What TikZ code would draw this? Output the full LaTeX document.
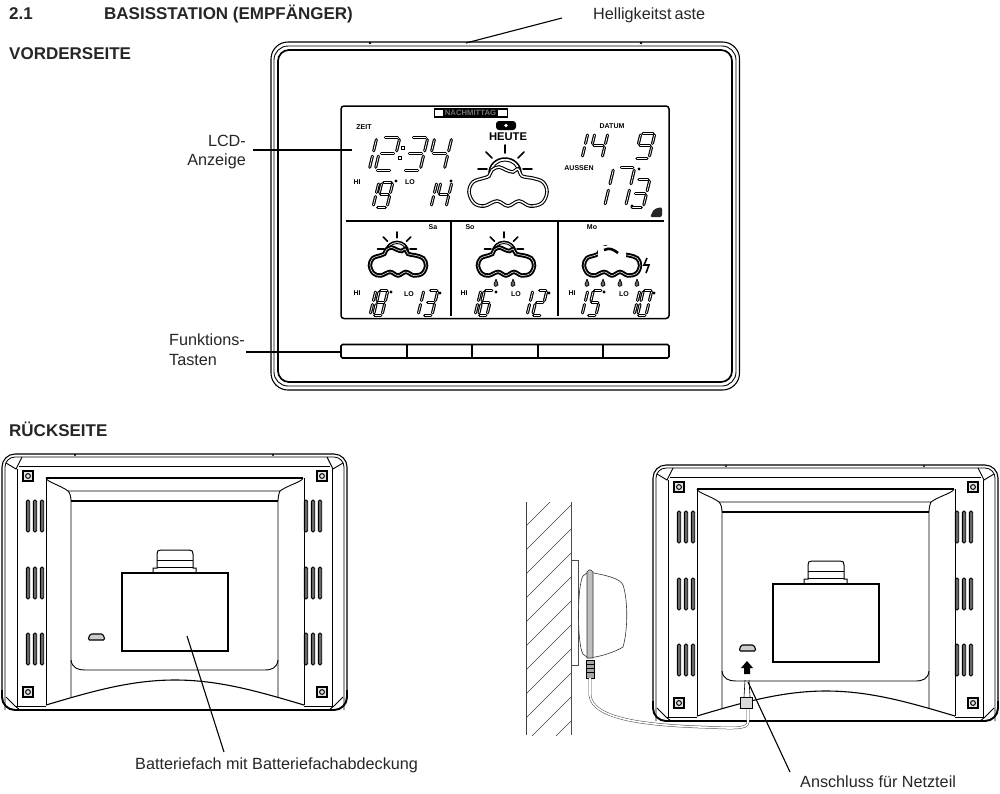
\documentclass[tikz,border=0pt]{standalone}
\usepackage{fontspec}
\setmainfont{Liberation Sans}
\tikzset{
  lbl/.style={font=\fontsize{16.2}{18.8}\selectfont,inner sep=0pt,text=black!85},
  hdg/.style={font=\bfseries\fontsize{17}{20}\selectfont,inner sep=0pt,anchor=west,text=black!85},
  tiny/.style={font=\bfseries\fontsize{7}{8}\selectfont,inner sep=0pt},
  leader/.style={line width=1.1pt,black},
  rearline/.style={line width=.9pt,black},
  vent/.style={line width=.9pt,draw=black,fill=black!60,rounded corners=1.5pt},
  hatchline/.style={line width=.45pt,black!75},
  cable/.style={line width=.5pt,black!70},
  rayline/.style={line width=1.7pt,line cap=round},
}
% seven-segment
\newcommand{\sgline}[2]{\draw[line width=3pt,black,line cap=round] (#1)--(#2);\draw[line width=.7pt,white] (#1)--(#2);}
\newcommand{\sga}{\sgline{.14,0}{.86,0}}
\newcommand{\sgb}{\sgline{1,.08}{1,.42}}
\newcommand{\sgc}{\sgline{1,.58}{1,.92}}
\newcommand{\sgd}{\sgline{.14,1}{.86,1}}
\newcommand{\sge}{\sgline{0,.58}{0,.92}}
\newcommand{\sgf}{\sgline{0,.08}{0,.42}}
\newcommand{\sgg}{\sgline{.14,.5}{.86,.5}}
\expandafter\def\csname dg0\endcsname{\sga\sgb\sgc\sgd\sge\sgf}
\expandafter\def\csname dg1\endcsname{\sgb\sgc}
\expandafter\def\csname dg2\endcsname{\sga\sgb\sgg\sge\sgd}
\expandafter\def\csname dg3\endcsname{\sga\sgb\sgg\sgc\sgd}
\expandafter\def\csname dg4\endcsname{\sgf\sgg\sgb\sgc}
\expandafter\def\csname dg5\endcsname{\sga\sgf\sgg\sgc\sgd}
\expandafter\def\csname dg6\endcsname{\sga\sgf\sgg\sgc\sgd\sge}
\expandafter\def\csname dg7\endcsname{\sga\sgb\sgc}
\expandafter\def\csname dg8\endcsname{\sga\sgb\sgc\sgd\sge\sgf\sgg}
\expandafter\def\csname dg9\endcsname{\sga\sgb\sgc\sgd\sgf\sgg}
% #1 top-right x, #2 top y, #3 width, #4 height, #5 digit
\newcommand{\dgt}[5]{\begin{scope}[shift={(#1-#3,#2)},x={(#3 pt,0pt)},y={(-.24*#4 pt,-#4 pt)}]\csname dg#5\endcsname\end{scope}}
\newcommand{\degr}[2]{\fill (#1,#2) circle (1.6pt);}
% cloud
\newcommand{\cloudpath}{plot[smooth cycle,tension=.6] coordinates {(-39,2)(-35,-8)(-24,-12)(-19,-14)(-16,-20)(-9,-23)(-2,-20)(5,-18)(10,-21)(14,-14)(24,-12)(35,-8)(39,2)(34,13)(22,16)(11,11)(0,16)(-11,11)(-24,16)(-34,13)}}
\newcommand{\sunrays}[3]{\begin{scope}[shift={(#1,#2)},scale=#3]
 \draw[rayline] (0,-17)--(0,-25);
 \draw[rayline] (18,-1)--(27,-1);\draw[rayline] (-18,-1)--(-27,-1);
 \draw[rayline] (13,-12)--(19,-18);\draw[rayline] (-13,-12)--(-19,-18);
 \draw[line width=1.5pt] (-16,3) arc[start angle=-180,end angle=0,x radius=16,y radius=15];
 \draw[line width=.9pt] (-13,3) arc[start angle=-180,end angle=0,x radius=13,y radius=12];
\end{scope}}
\newcommand{\maincloud}[3]{\begin{scope}[shift={(#1,#2)},scale=#3]
 \draw[line width=3.6pt,fill=white] \cloudpath; \draw[line width=1.4pt,white] \cloudpath;\end{scope}}
\newcommand{\fcloud}[2]{\begin{scope}[shift={(#1,#2)},scale=.72]
 \draw[line width=4.4pt,fill=white] \cloudpath; \draw[line width=.5pt,white] \cloudpath;\end{scope}}
\newcommand{\drp}[2]{\draw[fill=black!60,line width=.7pt] (#1,#2-4) .. controls (#1+.5,#2-1) and (#1+2.5,#2) .. (#1+2,#2+2) .. controls (#1+1.5,#2+4) and (#1-2.5,#2+4) .. (#1-2,#2+1) .. controls (#1-2,#2) and (#1-.5,#2-1) .. (#1,#2-4);}
% rear view
\newcommand{\rearview}[1]{\begin{scope}[shift={#1}]
 \draw[line width=1.1pt,rounded corners=13pt] (2,454) -- (347,454) -- (347,710) -- (2,710) -- cycle;
 \draw[line width=1.9pt,rounded corners=13pt] (2,690) -- (2,710) -- (347,710) -- (347,690);
 \draw[line width=.8pt,rounded corners=10pt] (5,710) -- (5,457) -- (344,457) -- (344,710);
 \fill (75,455) circle (1.2pt);\fill (273,455) circle (1.2pt);
 \draw[rearline] (22,457)--(16,469)--(6,463);
 \draw[rearline] (327,457)--(333,469)--(343,463);
 \draw[rearline] (20,710)--(15,706)--(6,697);
 \draw[rearline] (329,710)--(334,706)--(343,697);
 \draw[rearline] (19,466)--(330,466);
 \draw[rearline] (17,469)--(17,706);
 \draw[rearline] (332,469)--(332,706);
 \draw[rearline] (15,706)--(46,706);\draw[rearline] (304,706)--(334,706);
 \foreach \cx/\cy in {28/476,322/476,28/692,322/692}{
   \draw[line width=1.1pt,fill=black!10] (\cx-5,\cy-5) rectangle (\cx+5,\cy+5);
   \draw[line width=1pt] (\cx,\cy) circle (2.4pt);}
 \draw[line width=1.1pt] (46,478)--(303,478);
 \draw[rearline] (46,478) .. controls (47,482) and (60,485) .. (68,491) -- (280,491) .. controls (288,485) and (302,482) .. (303,478);
 \draw[line width=1.1pt] (71,501)--(278,501);
 \draw[rearline] (68,491) .. controls (70,493) and (71,497) .. (71,501)--(71,697);
 \draw[rearline] (280,491) .. controls (279,493) and (278,497) .. (278,501)--(278,697);
 \draw[rearline] (46,478)--(46,705);
 \draw[rearline] (304,478)--(304,705);
 \draw[rearline] (71,660) .. controls (72,668) and (78,670) .. (85,670)--(264,670) .. controls (272,670) and (277,668) .. (278,660);
 \draw[line width=1.1pt] (46,705) .. controls (90,692) and (130,680) .. (175,680) .. controls (220,680) and (260,692) .. (304,705);
 \foreach \vx in {28,35,42,306,313,320}\foreach \vy in {500,567,633}{
   \draw[vent] (\vx-1.7,\vy) rectangle (\vx+1.7,\vy+32);}
 \draw[line width=1.9pt,fill=white] (122,573) rectangle (228,651);
 \draw[line width=1pt] (153,573)--(153,568)--(157,568)--(157,554) .. controls (157,551) and (158,550) .. (161,550) -- (189,550) .. controls (192,550) and (193,551) .. (193,554)--(193,568)--(196,568)--(196,573);
 \draw[line width=.8pt] (157,560)--(193,560);\draw[line width=.8pt] (157,567)--(193,567);
 \draw[line width=1.1pt,fill=black!20,rounded corners=1.5pt] (88,640)--(90,634)--(103,634)--(105,640)--cycle;
\end{scope}}
\begin{document}
\begin{tikzpicture}[x=1pt,y=-1pt]
\fill[white] (0,0) rectangle (1000,793);
\useasboundingbox (0,0) rectangle (1000,793);
% headings
\node[hdg] (secnum) at (9,14) {2.1};
\node[hdg] (sectitle) at (104,14) {BASISSTATION (EMPFÄNGER)};
\node[hdg] (front) at (9,54) {VORDERSEITE};
\node[hdg] (back) at (9,429) {RÜCKSEITE};
% main housing
\draw[line width=1.1pt,rounded corners=17pt] (271,42) rectangle (739.5,390);
\draw[line width=.9pt,rounded corners=14pt] (274,46) rectangle (736,386);
\draw[line width=1.7pt,rounded corners=11pt] (278,50) rectangle (732,382);
\fill (370,43) circle (1.4pt);\fill (641,43) circle (1.4pt);
% LCD
\draw[line width=1.5pt,rounded corners=3pt] (341,106) rectangle (669,318.5);
\draw[line width=1.6pt] (346,221)--(664,221);
\draw[line width=1.6pt] (451,221)--(451,316);
\draw[line width=1.6pt] (558,221)--(558,316);
% buttons
\draw[line width=1.7pt,rounded corners=1.5pt] (341,344.5) rectangle (669,358);
\foreach \bx in {407,472,538,603}{\draw[line width=1.7pt] (\bx,344.5)--(\bx,358);}
% banner
\draw[line width=1.3pt] (434.5,109) rectangle (507.5,117);
\fill (443,109) rectangle (498,117);
\node[tiny,font=\bfseries\fontsize{7.7}{8}\selectfont,text=black!55] (banner) at (470.5,113) {NACHMITTAG};
% small labels
\node[tiny] (zeit) at (364,127) {ZEIT};
\node[tiny] (hi0) at (357,182) {HI};
\node[tiny] (lo0) at (410,182) {LO};
\node[tiny] (datum) at (612,126) {DATUM};
\node[tiny] (aussen) at (579,168) {AUSSEN};
\node[font=\bfseries\fontsize{11.2}{12}\selectfont,inner sep=0pt] (heute) at (508,137) {HEUTE};
\fill[rounded corners=3pt] (496,121) rectangle (516,130);
\fill[white] (506,125.5) circle (1.8pt);
% time
\dgt{377}{137}{16}{33}{1}\dgt{400}{137}{17}{33}{2}\dgt{428}{137}{17}{33}{3}\dgt{452}{137}{17}{33}{4}
\draw[line width=.8pt] (401,146) rectangle (404,149);\draw[line width=.8pt] (398,156) rectangle (401,159);
\dgt{379}{182}{11}{25}{1}\dgt{393}{182}{11}{25}{9}\degr{396}{181}
\dgt{437}{182}{11}{25}{1}\dgt{452}{182}{11}{25}{4}\degr{451}{181}
\dgt{588}{133}{11}{25}{1}\dgt{608}{133}{13}{25}{4}\dgt{655}{133}{14}{25}{9}
\dgt{614}{167}{14}{40}{1}\dgt{635}{167}{16}{40}{7}\dgt{650}{179}{13}{28}{3}\degr{639}{169}\degr{632}{206}
\fill[black!85,rounded corners=2pt] (650,217)--(654,209)--(662,207)--(662,217)--cycle;
% main weather
\sunrays{505}{170}{1}
\maincloud{508}{190}{1}
% forecast
\sunrays{397}{250}{.72}\fcloud{398}{264}
\sunrays{504}{250}{.72}\fcloud{506}{264}
\fcloud{612}{264}
\fill[white] (598,246) rectangle (626,257);
\draw[line width=2.6pt] (604,250) .. controls (610,247) and (614,250) .. (618,253);
\draw[line width=1.6pt] (647,258)--(644,265)--(649,265)--(646,273);
\node[tiny] (sa) at (433,227) {Sa};
\node[tiny] (so) at (470,227) {So};
\node[tiny] (mo) at (592,227) {Mo};
\drp{496}{283}\drp{513}{283}
\drp{587}{283}\drp{603}{283}\drp{620}{283}\drp{637}{283}
\node[tiny] (hi1) at (357,293) {HI};\node[tiny] (lo1) at (409,294) {LO};
\node[tiny] (hi2) at (464,293) {HI};\node[tiny] (lo2) at (516,294) {LO};
\node[tiny] (hi3) at (572,293) {HI};\node[tiny] (lo3) at (624,294) {LO};
\dgt{376}{290}{8}{25}{1}\dgt{388}{290}{8.5}{25}{8}\degr{391}{292}
\dgt{424}{290}{8}{25}{1}\dgt{438}{290}{8.5}{25}{3}\degr{440}{293}
\dgt{481}{290}{8}{25}{1}\dgt{493}{290}{8.5}{25}{6}\degr{496}{292}
\dgt{533}{290}{8}{25}{1}\dgt{547}{290}{8.5}{25}{2}\degr{549}{293}
\dgt{588}{290}{8}{25}{1}\dgt{602}{290}{8.5}{25}{5}\degr{604}{292}
\dgt{640}{290}{8}{25}{1}\dgt{652}{290}{8.5}{25}{0}\degr{654}{293}
% top labels & leaders
\node[lbl,anchor=west] (hell) at (593,15) {Helligkeitst\kern3pt aste};
\coordinate (hellfrom) at (562,18);\coordinate (hellto) at (466,43);
\draw[leader] (hellfrom)--(hellto);
\node[lbl,anchor=east,align=right] (lcd) at (246,152) {LCD-\\Anzeige};
\coordinate (lcdfrom) at (253,150);\coordinate (lcdto) at (352,150);
\draw[leader] (lcdfrom)--(lcdto);
\node[lbl,align=left,anchor=west,font=\fontsize{16.2}{20}\selectfont] (fkt) at (169,349.5) {Funktions-\\Tasten};
\coordinate (fktfrom) at (246,352);\coordinate (fktto) at (341,352);
\draw[leader] (fktfrom)--(fktto);
% rear views
\rearview{(0,0)}
\rearview{(651,11)}
% battery label
\node[lbl,anchor=west] (batt) at (135,765) {Batteriefach mit Batteriefachabdeckung};
\coordinate (battfrom) at (187,636);\coordinate (battto) at (224,752);
\draw[leader] (battfrom)--(battto);
% wall
\begin{scope}
\clip (526,502) rectangle (571,735);
\foreach \hy in {502,526,...,800}{\draw[hatchline] (526,\hy)--(571,\hy-45);}
\end{scope}
\draw[hatchline] (526,502)--(526,735);
\draw[line width=.7pt,black!70] (571,502)--(571,735);
% adapter
\draw[line width=.5pt,black!70] (571,560)--(578,560)--(578,665)--(571,665);
\draw[line width=.6pt,black!80,fill=white] (588,572) .. controls (605,575) and (620,578) .. (623,585) .. controls (628,600) and (628,630) .. (623,647) .. controls (615,652) and (600,657) .. (588,658) -- (583,654) .. controls (577,645) and (577,585) .. (583,576) -- cycle;
\draw[line width=.6pt,black!80,fill=black!25] (587,572) -- (589,570) -- (591,570) -- (593,572) -- (593,658) -- (587,658) -- cycle;
\draw[line width=.6pt,black,fill=black!35] (586,660) rectangle (594,678);
\foreach \py in {664,668,672}{\draw[line width=.4pt] (586,\py)--(594,\py);}
% cable
\coordinate (plugbot) at (590,678);
\coordinate (socket) at (748,706);
\draw[cable,double=white,double distance=1.6pt] (plugbot)--(590,695) .. controls (592,720) and (650,725) .. (700,727) .. controls (730,728) and (748,730) .. (748,722) -- (socket);
\draw[line width=.6pt,fill=black!15] (740,697) rectangle (752,708);
\draw[line width=.6pt] (750,697)--(749,680);\draw[line width=.6pt] (744,697)--(745,680);
% power arrow
\fill (747,661)--(753,668)--(750,668)--(750,674)--(744,674)--(744,668)--(741,668)--cycle;
% power label
\node[lbl,anchor=west] (netz) at (800,782) {Anschluss für Netzteil};
\coordinate (netzfrom) at (748,682);\coordinate (netzto) at (790,772);
\draw[leader] (netzfrom)--(netzto);
\end{tikzpicture}
\end{document}
